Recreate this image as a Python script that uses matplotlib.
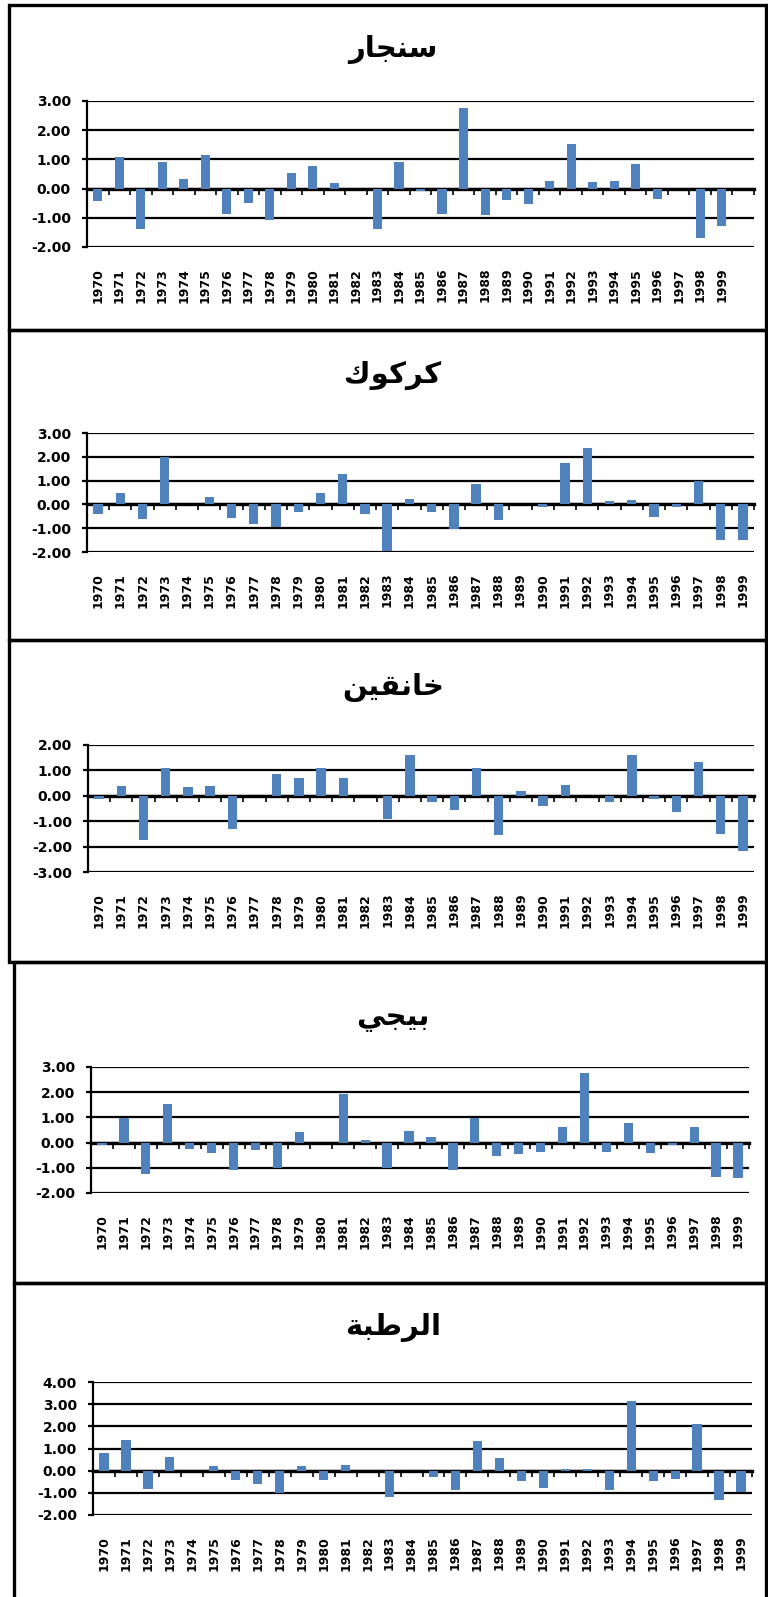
import matplotlib.pyplot as plt
from matplotlib.patches import Rectangle
from matplotlib.ticker import FormatStrFormatter

# categories
years = list(range(1970, 2000))

# station names, written with Arabic presentation forms in visual order
# (matplotlib does no Arabic shaping)
title_sinjar = "\uFEAD\uFE8E\uFEA0\uFEE8\uFEB3"          # سنجار
title_kirkuk = "\uFED9\uFEEE\uFEDB\uFEAE\uFEDB"          # كركوك
title_khanaqin = "\uFEE6\uFEF4\uFED8\uFEE7\uFE8E\uFEA7"  # خانقين
title_baiji = "\uFEF2\uFEA0\uFEF4\uFE91"                 # بيجي
title_rutba = "\uFE94\uFE92\uFEC3\uFEAE\uFEDF\uFE8D"     # الرطبة

# standardised anomalies
sinjar = [-0.43, 1.09, -1.40, 0.91, 0.33, 1.14, -0.86, -0.49, -1.09, 0.53,
          0.76, 0.19, 0.00, -1.40, 0.91, -0.08, -0.86, 2.76, -0.91, -0.38,
          -0.52, 0.26, 1.52, 0.23, 0.26, 0.84, -0.34, 0.00, -1.69, -1.28]
kirkuk = [-0.40, 0.47, -0.61, 1.99, 0.00, 0.33, -0.56, -0.81, -0.95, -0.32,
          0.47, 1.26, -0.42, -1.94, 0.22, -0.32, -1.05, 0.86, -0.66, 0.00,
          -0.10, 1.72, 2.36, 0.14, 0.18, -0.52, -0.10, 1.00, -1.49, -1.49]
khanaqin = [-0.12, 0.40, -1.73, 1.08, 0.36, 0.40, -1.31, 0.00, 0.86, 0.69,
            1.08, 0.69, 0.00, -0.90, 1.61, -0.23, -0.57, 1.08, -1.55, 0.17,
            -0.39, 0.44, 0.00, -0.23, 1.61, -0.12, -0.62, 1.32, -1.49, -2.18]
baiji = [-0.10, 0.99, -1.23, 1.54, -0.27, -0.40, -1.10, -0.31, -1.00, 0.43,
         0.00, 1.93, 0.10, -1.00, 0.47, 0.24, -1.10, 0.99, -0.54, -0.44,
         -0.37, 0.61, 2.75, -0.39, 0.76, -0.40, -0.10, 0.61, -1.37, -1.42]
rutba = [0.78, 1.38, -0.84, 0.60, 0.00, 0.20, -0.42, -0.62, -1.02, 0.20,
         -0.42, 0.24, 0.00, -1.20, 0.00, -0.27, -0.87, 1.34, 0.56, -0.47,
         -0.80, 0.09, 0.09, -0.87, 3.13, -0.47, -0.36, 2.11, -1.33, -0.98]

W, H = 768, 1597
bar_color = "#4F81BD"

fig = plt.figure(figsize=(W / 100, H / 100), dpi=100)


def px_rect(left, top, right, bottom):
    return [left / W, 1 - bottom / H, (right - left) / W, (bottom - top) / H]


def draw_panel(values, title, ylim, ax_box, frame_box, title_y, n_slots):
    l, t, r, b = frame_box
    fig.add_artist(Rectangle((l / W, 1 - b / H), (r - l) / W, (b - t) / H,
                             transform=fig.transFigure, fill=False,
                             lw=2.4, ec="black"))
    fig.text(393 / W, 1 - title_y / H, title, ha="center", va="center",
             fontsize=21, fontweight="bold", family="DejaVu Sans")

    ax = fig.add_axes(px_rect(*ax_box))
    x = list(range(len(values)))
    ax.bar(x, values, width=0.42, color=bar_color, zorder=2)
    ax.set_xlim(-0.5, n_slots - 0.5)
    ax.set_ylim(*ylim)
    ax.set_yticks(range(ylim[0], ylim[1] + 1))
    ax.yaxis.set_major_formatter(FormatStrFormatter("%.2f"))
    ax.grid(axis="y", color="black", linewidth=1.6)
    ax.set_axisbelow(True)
    for s in ["top", "right", "bottom"]:
        ax.spines[s].set_visible(False)
    ax.spines["left"].set_linewidth(1.6)
    ax.tick_params(axis="y", length=3.6, width=1.6, labelsize=10, pad=8)
    for lab in ax.get_yticklabels():
        lab.set_fontweight("bold")

    ax.set_xticks(x)
    ax.set_xticklabels([str(y) for y in years], rotation=90,
                       fontsize=9, fontweight="bold", va="top")
    ax.tick_params(axis="x", length=0, pad=15)

    # category axis crossing at zero
    zx = ax.secondary_xaxis(0, transform=ax.transData)
    zx.set_xticks([i - 0.5 for i in range(n_slots + 1)])
    zx.set_xticklabels([])
    zx.tick_params(length=4, width=1.2, direction="out")
    zx.spines["bottom"].set_linewidth(2.4)
    return ax


draw_panel(sinjar, title_sinjar, (-2, 3), (87, 101, 754, 247),
           (9, 5, 766, 330), 50, len(years) + 1)
draw_panel(kirkuk, title_kirkuk, (-2, 3), (87, 433, 754, 552),
           (9, 330, 766, 640), 375, len(years))
draw_panel(khanaqin, title_khanaqin, (-3, 2), (88, 745, 754, 872),
           (9, 640, 766, 962), 688, len(years))
draw_panel(baiji, title_baiji, (-2, 3), (91, 1067, 749, 1193),
           (14, 962, 766, 1283), 1018, len(years))
draw_panel(rutba, title_rutba, (-2, 4), (93, 1382, 752, 1515),
           (14, 1283, 766, 1612), 1327, len(years))

fig.savefig("out.png", dpi=100)
plt.close(fig)
